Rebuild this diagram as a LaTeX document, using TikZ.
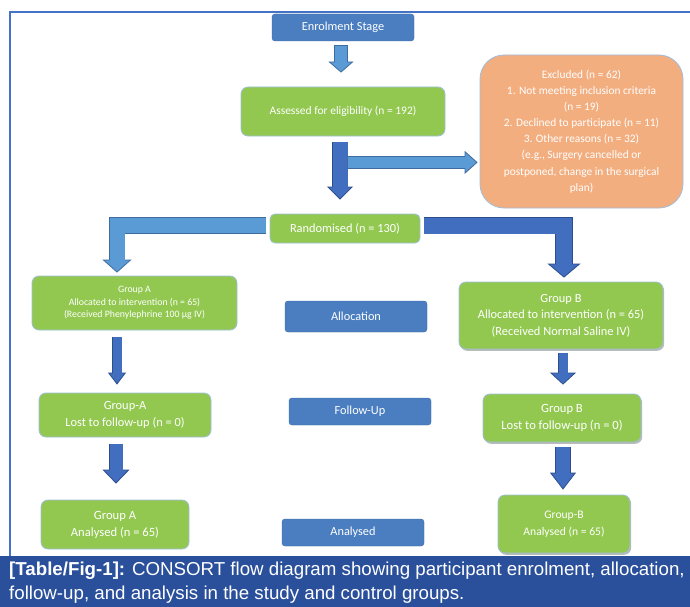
\documentclass[tikz,border=0pt]{standalone}
\usepackage{fontspec}
\setmainfont{Carlito}
\newfontfamily\capfont{Liberation Sans}
\usetikzlibrary{arrows.meta}
\usetikzlibrary{calc}
\usetikzlibrary{shadows}
\definecolor{boxgreen}{RGB}{146,200,80}
\definecolor{boxedge}{RGB}{160,190,220}
\definecolor{stageblue}{RGB}{74,126,192}
\definecolor{exclorange}{RGB}{243,174,128}
\definecolor{arrowlight}{RGB}{91,155,213}
\definecolor{arrowlightline}{RGB}{62,108,158}
\definecolor{arrowdark}{RGB}{66,110,192}
\definecolor{arrowdarkline}{RGB}{44,78,140}
\definecolor{frameblue}{RGB}{68,114,196}
\definecolor{capblue}{RGB}{42,79,155}
\tikzset{greenbox/.style = {draw=boxedge, line width=0.8pt, fill=boxgreen, rounded corners=7pt,
                            text=white, align=center, inner sep=0pt},
         shadowbox/.style = {greenbox, drop shadow={shadow xshift=1.2pt, shadow yshift=-1.8pt,
                                                    fill=black!60, opacity=0.45}},
         stagebox/.style = {fill=stageblue, draw=stageblue!85!black, line width=0.4pt,
                            rounded corners=3pt, text=white, align=center, inner sep=0pt,
                            minimum width=142pt, minimum height=27pt,
                            font=\fontsize{12.3}{14}\selectfont},
         blockarrow/.style n args = {5}{preaction={draw=#2, line width=#3+1.6pt, shorten <=-0.8pt,
                                          shorten >=0pt,
                                          -{Triangle[width=#4, length=#5, line width=0.8pt,
                                                     color=#2, fill=#1]}},
                                        draw=#1, line width=#3, shorten >=#5-1pt, line join=miter},
         lightarrow/.style n args = {3}{blockarrow={arrowlight}{arrowlightline}{#1}{#2}{#3}},
         darkarrow/.style n args = {3}{blockarrow={arrowdark}{arrowdarkline}{#1}{#2}{#3}}}

\begin{document}
\begin{tikzpicture}[x=1pt,y=-1pt]
    \useasboundingbox (0,0) rectangle (690,607);
    \fill [white] (0,0) rectangle (690,607);
    \draw [frameblue, line width=1.5pt] (690,12) -- (10,12) -- (10,556);
    \fill [capblue] (0,556) rectangle (690,607);

    % enrolment
    \node [stagebox] (enrol) at (343,27.5) {Enrolment Stage};
    \node [greenbox, minimum width=204pt, minimum height=49pt, font=\fontsize{11.5}{13}\selectfont]
      (assess) at (343,111.5) {Assessed for eligibility (n = 192)};
    \node [greenbox, fill=exclorange, rounded corners=24pt, minimum width=203pt, minimum height=153pt,
           font=\fontsize{11.4}{16.1}\selectfont] (excl) at (581.5,131.5)
      {Excluded (n = 62)\\1. Not meeting inclusion criteria\\(n = 19)\\
       2. Declined to participate (n = 11)\\3. Other reasons (n = 32)\\(e.g., Surgery cancelled or\\
       postponed, change in the surgical\\plan)};
    \node [greenbox, rounded corners=5pt, minimum width=150pt, minimum height=29pt,
           font=\fontsize{12.4}{14}\selectfont] (rand) at (345,228.5) {Randomised (n = 130)};

    % allocation
    \node [greenbox, minimum width=205pt, minimum height=54pt, font=\fontsize{9.8}{12.5}\selectfont]
      (grpAa) at (134.5,303) {Group A\\Allocated to intervention (n = 65)\\(Received Phenylephrine 100 µg IV)};
    \node [stagebox, minimum height=31pt] (alloc) at (356,316.5) {Allocation};
    \node [shadowbox, minimum width=204pt, minimum height=67pt, font=\fontsize{12.4}{16.5}\selectfont]
      (grpBa) at (561,315.5) {Group B\\Allocated to intervention (n = 65)\\(Received Normal Saline IV)};

    % follow-up
    \node [greenbox, minimum width=172pt, minimum height=44pt, font=\fontsize{12.4}{16.7}\selectfont]
      (grpAl) at (125,415) {Group-A\\Lost to follow-up (n = 0)};
    \node [stagebox] (follow) at (360,411.5) {Follow-Up};
    \node [shadowbox, minimum width=158pt, minimum height=48pt, font=\fontsize{12.6}{16.7}\selectfont]
      (grpBl) at (562,418) {Group B\\Lost to follow-up (n = 0)};

    % analysis
    \node [greenbox, minimum width=148pt, minimum height=49pt, font=\fontsize{12.6}{17}\selectfont]
      (grpAn) at (115,524.5) {Group A\\Analysed (n = 65)};
    \node [stagebox] (anal) at (353,532.5) {Analysed};
    \node [shadowbox, minimum width=132pt, minimum height=58pt, font=\fontsize{11.6}{16.5}\selectfont]
      (grpBn) at (564,524) {Group-B\\Analysed (n = 65)};

    % arrows
    \draw [lightarrow={12pt}{25pt}{11pt}] ($(enrol.south)+(-2,5)$) -- ($(assess.north)+(-2,-14)$);
    \draw [darkarrow={15pt}{26pt}{13pt}] ($(assess.south)+(-3,6)$) coordinate (split)
      -- ($(split |- rand.north)+(0,-14)$);
    \draw [lightarrow={11pt}{23pt}{13pt}] ($(split)+(7.5,20)$) coordinate (side)
      -- ($(side -| excl.west)+(-2,0)$);
    \draw [lightarrow={15pt}{29pt}{13pt}] ($(rand.west)+(-4,-3)$) -| ($(grpAa.north)+(-17.5,-3)$);
    \draw [darkarrow={16pt}{33pt}{14pt}] ($(rand.east)+(4,-3)$) -| ($(grpBa.north)+(3,-4)$);
    \draw [darkarrow={9pt}{18pt}{12pt}] ($(grpAa.south)+(-17.5,7)$) coordinate (a1)
      -- ($(a1 |- grpAl.north)+(0,-8)$);
    \draw [darkarrow={9pt}{26pt}{12pt}] ($(grpBa.south)+(2,4)$) coordinate (b1)
      -- ($(b1 |- grpBl.north)+(0,-9)$);
    \draw [darkarrow={13pt}{27pt}{14pt}] ($(grpAl.south)+(-9,7)$) coordinate (a2)
      -- ($(a2 |- grpAn.north)+(0,-16)$);
    \draw [darkarrow={14pt}{26pt}{17pt}] ($(grpBl.south)+(1,5)$) coordinate (b2)
      -- ($(b2 |- grpBn.north)+(0,-5)$);

    % caption
    \node [anchor=north west, text=white, align=left, inner sep=0pt,
           font=\capfont\fontsize{18.7}{24}\selectfont] (capt) at (9,562)
      {\textbf{[Table/Fig-1]:} CONSORT flow diagram showing participant enrolment, allocation,\\
       follow-up, and analysis in the study and control groups.};
\end{tikzpicture}
\end{document}
